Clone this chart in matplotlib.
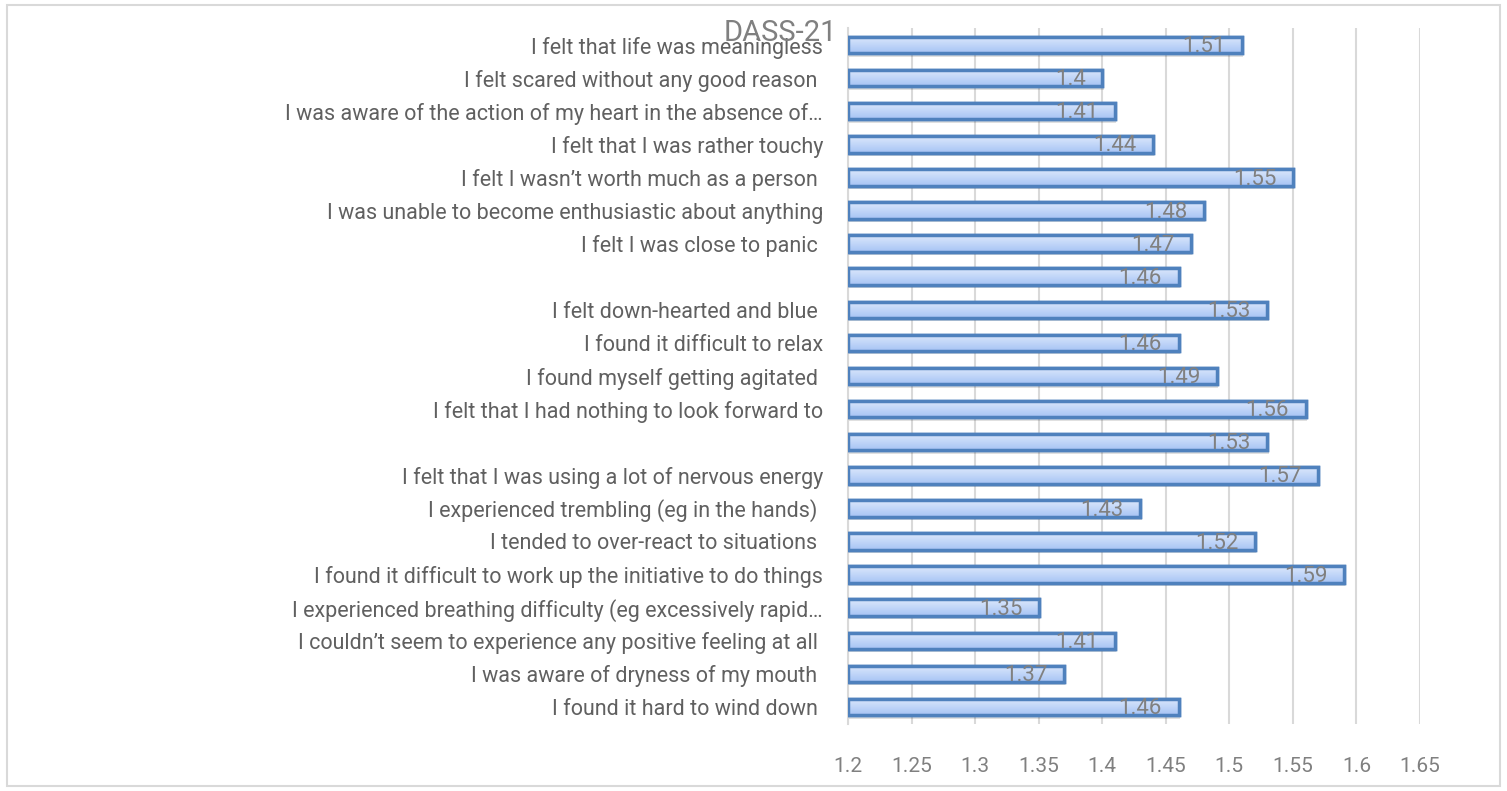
import matplotlib
matplotlib.use('Agg')
import matplotlib.pyplot as plt
import numpy as np
from matplotlib.patches import Rectangle

# items listed bottom to top, as they appear in the chart
items = [
    "I found it hard to wind down ",
    "I was aware of dryness of my mouth ",
    "I couldn\u2019t seem to experience any positive feeling at all ",
    "I experienced breathing difficulty (eg excessively rapid\u2026",
    "I found it difficult to work up the initiative to do things",
    "I tended to over-react to situations ",
    "I experienced trembling (eg in the hands) ",
    "I felt that I was using a lot of nervous energy",
    "",
    "I felt that I had nothing to look forward to",
    "I found myself getting agitated ",
    "I found it difficult to relax",
    "I felt down-hearted and blue ",
    "",
    "I felt I was close to panic ",
    "I was unable to become enthusiastic about anything",
    "I felt I wasn\u2019t worth much as a person ",
    "I felt that I was rather touchy",
    "I was aware of the action of my heart in the absence of\u2026",
    "I felt scared without any good reason ",
    "I felt that life was meaningless",
]
scores = [1.46, 1.37, 1.41, 1.35, 1.59, 1.52, 1.43, 1.57, 1.53, 1.56, 1.49,
          1.46, 1.53, 1.46, 1.47, 1.48, 1.55, 1.44, 1.41, 1.40, 1.51]
x_ticks = [1.2, 1.25, 1.3, 1.35, 1.4, 1.45, 1.5, 1.55, 1.6, 1.65]

plt.rcParams['font.family'] = ['Roboto', 'DejaVu Sans']

fig = plt.figure(figsize=(15.07, 7.91), dpi=100)
ax = fig.add_axes([0.5627, 0.0853, 0.3796, 0.8787])

y = np.arange(len(items))
base = 1.2
widths = [s - base for s in scores]

# soft shadow behind the bars
ax.barh(y - 0.1, widths, left=base + 0.001, height=0.5, color='#000000', alpha=0.12,
        linewidth=0, zorder=2)
bars = ax.barh(y, widths, left=base, height=0.5, facecolor='#bcd3f8',
               edgecolor='#4f81bd', linewidth=2.5, zorder=3)

grad = np.linspace(0, 1, 50).reshape(-1, 1)
cmap = matplotlib.colors.LinearSegmentedColormap.from_list('g', ['#a7c4f4', '#dce8fc'])
for b in bars:
    x0, y0 = b.get_x(), b.get_y()
    w, h = b.get_width(), b.get_height()
    im = ax.imshow(grad, cmap=cmap, aspect='auto', origin='lower',
                   extent=(x0, x0 + w, y0, y0 + h), zorder=3.5)
    im.set_clip_path(b)
    edge = Rectangle((x0, y0), w, h, fill=False, edgecolor='#4f81bd',
                     linewidth=2.5, zorder=4)
    ax.add_patch(edge)

for yi, s in zip(y, scores):
    ax.text(s - 0.013, yi - 0.05, f'{s:g}', ha='right', va='center',
            fontsize=16, color='#808080', zorder=5)

ax.set_xlim(1.2, 1.65)
ax.set_ylim(-0.5, len(items) - 0.5)
ax.set_xticks(x_ticks)
ax.set_xticklabels([f'{t:g}' for t in x_ticks])
ax.set_yticks(y)
ax.set_yticklabels(items)
ax.tick_params(axis='both', length=0)
ax.tick_params(axis='x', colors='#808080', pad=24, labelsize=15)
ax.tick_params(axis='y', colors='#606060', pad=18, labelsize=15.5)
ax.grid(axis='x', color='#d9d9d9', linewidth=1.5, zorder=0)
ax.set_axisbelow(True)
for side in ['top', 'right', 'bottom']:
    ax.spines[side].set_visible(False)
ax.spines['left'].set_color('#d9d9d9')
ax.spines['left'].set_linewidth(1.5)

fig.text(0.518, 0.958, 'DASS-21', ha='center', va='center', fontsize=21,
         color='#808080')

fig.patches.append(Rectangle((7 / 1507, 5 / 791), 1493 / 1507, 781 / 791,
                             transform=fig.transFigure, fill=False,
                             edgecolor='#d9d9d9', linewidth=1.5))

fig.savefig('out.png', dpi=100)
